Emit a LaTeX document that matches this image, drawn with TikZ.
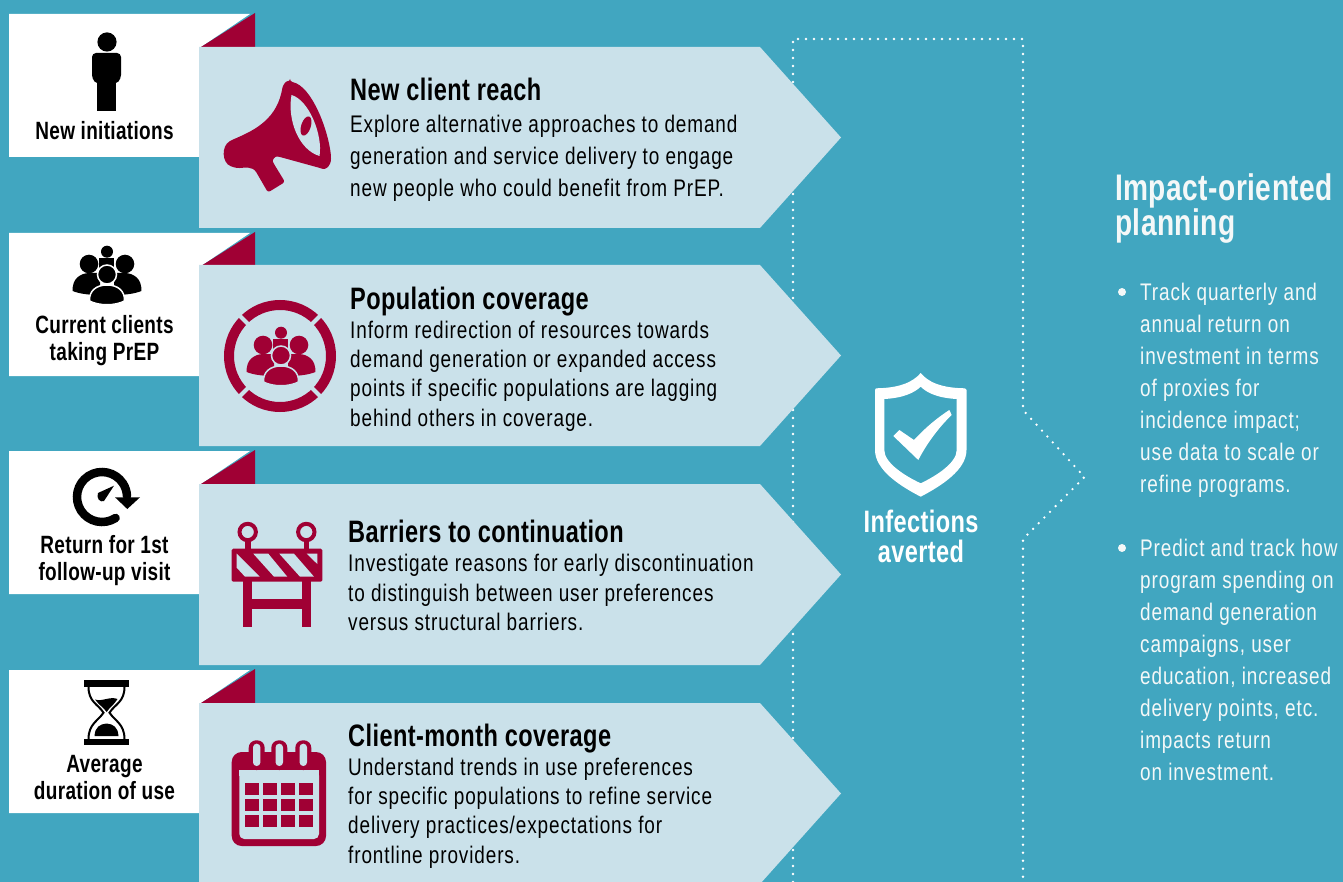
\documentclass[tikz,border=0pt]{standalone}
\usepackage{fontspec}
\setmainfont[FakeStretch=0.79,LetterSpace=3.7]{Liberation Sans}
\newfontfamily\hfam[FakeStretch=0.76,LetterSpace=1.3]{Liberation Sans}
\newcommand{\headfont}{\hfam\bfseries}
\definecolor{bgblue}{HTML}{41A6C0}
\definecolor{paleblue}{HTML}{CAE1EA}
\definecolor{wine}{HTML}{A00034}
\definecolor{creamtext}{HTML}{F4F8F8}
\tikzset{
  chevron/.style={fill=paleblue,draw=none},
  tabbox/.style={fill=white,draw=none},
  fold/.style={fill=wine,draw=none},
  headline/.style={anchor=base west,inner sep=0pt,font=\headfont\fontsize{31}{32}\selectfont,text=black},
  bodytext/.style={anchor=west,inner sep=0pt,align=left,text=black},
  tablabel/.style={inner sep=0pt,align=center,font=\headfont\fontsize{25}{27}\selectfont,text=black},
  dotline/.style={white,line width=2.6pt,line cap=round,dash pattern=on 0pt off 8pt},
  sidetext/.style={anchor=west,inner sep=0pt,align=left,text=creamtext,font=\fontsize{24}{32}\selectfont},
}
\newcommand{\tabpanel}[1]{%
  \fill[tabbox] (9,#1) -- (250,#1) -- (201,#1+33) -- (201,#1+143) -- (9,#1+143) -- cycle;
  \fill[fold] (255,#1-1) -- (201,#1+33) -- (255,#1+33) -- cycle;}
\newcommand{\arrowpanel}[1]{%
  \fill[chevron] (199,#1) -- (760,#1) -- (841,#1+90.5) -- (760,#1+181) -- (199,#1+181) -- cycle;}
\newcommand{\groupicon}[3]{%
 \begin{scope}[shift={(#1)}]
  \fill[#2] (107,251.7) circle (6);
  \fill[#2] (99.3,258) rectangle (114,270);
  \fill[#2] (72.6,291) .. controls (72,279) and (80,273) .. (90,273) -- (100,273) -- (100,295) .. controls (90,295) and (80,294) .. (72.6,291) -- cycle;
  \fill[#2] (141.4,291) .. controls (142,279) and (134,273) .. (124,273) -- (114,273) -- (114,295) .. controls (124,295) and (134,294) .. (141.4,291) -- cycle;
  \fill[#2] (89,264) circle (9.3);
  \fill[#2] (125,264) circle (9.3);
  \filldraw[fill=#2,draw=#3,line width=1.5pt] (89.5,301) .. controls (89,291) and (96,285) .. (107,285) .. controls (118,285) and (125,291) .. (124.5,301) .. controls (115,306) and (99,306) .. (89.5,301) -- cycle;
  \filldraw[fill=#2,draw=#3,line width=1.5pt] (107,274.5) circle (9.5);
 \end{scope}}
\begin{document}
\begin{tikzpicture}[x=1pt,y=-1pt]
\useasboundingbox (0,0) rectangle (1343,882);
\clip (0,0) rectangle (1343,882);
\fill[bgblue] (0,0) rectangle (1343,882);

% dotted frame
\coordinate (fA) at (793,882);
\coordinate (fB) at (793,39);
\coordinate (fC) at (1023,39);
\coordinate (fD) at (1023,410);
\coordinate (fE) at (1084.5,477);
\coordinate (fF) at (1028,534);
\coordinate (fG) at (1023,539);
\coordinate (fH) at (1023,882);
\draw[dotline] (fA) -- (fB) -- (fC) -- (fD) -- (fE) -- (fF) -- (fG) -- (fH);

\tabpanel{14}\tabpanel{233}\tabpanel{451}\tabpanel{670}
\arrowpanel{47}\arrowpanel{265}\arrowpanel{484}\arrowpanel{703}

% person
\fill[black] (107,42) circle (9.6);
\fill[black,rounded corners=4pt] (92,53) -- (121,53) -- (121,79) -- (116,84) -- (97,84) -- (92,79) -- cycle;
\fill[black] (97,78) rectangle (116,111.5);
\node[tablabel] (t1) at (104.5,131) {New initiations};

% group black
\groupicon{0,0}{black}{white}
\node[tablabel] (t2) at (104.5,340.5) {Current clients\\taking PrEP};

% gauge
\draw[black,line width=8.5pt,line cap=round] (102,497) ++(57:25) arc[start angle=57,end angle=358,radius=25];
\fill[black] (115,497.3) -- (140,497.3) -- (127.3,509) -- cycle;
\fill[black] (114,485.7) -- (104,501) .. controls (100,503) and (96,498) .. (98,493) -- cycle;
\node[tablabel] (t3) at (104.5,560.5) {Return for 1st\\follow-up visit};

% hourglass
\fill[black] (83.7,680.3) rectangle (129,687);
\fill[black] (83.7,739) rectangle (129,745.3);
\draw[black,line width=2pt] (88.5,687) .. controls (88.5,702) and (98,704) .. (103.5,712.7) .. controls (98,721) and (88.5,724) .. (88.5,739);
\draw[black,line width=2pt] (124.5,687) .. controls (124.5,702) and (115,704) .. (109.5,712.7) .. controls (115,721) and (124.5,724) .. (124.5,739);
\fill[black] (95,699.5) .. controls (102,702) and (110,696) .. (117.5,699) .. controls (114,705) and (109,708) .. (106.7,712) .. controls (104,708) and (99,705) .. (95,699.5) -- cycle;
\fill[black] (94.5,736) .. controls (95,727) and (100,724) .. (106.7,723.5) .. controls (113,724) and (118,727) .. (118.5,736) -- cycle;
\node[tablabel] (t4) at (104.5,777.5) {Average\\duration of use};

% megaphone
\fill[wine,rounded corners=2.5pt] (290,81.5) .. controls (312,86) and (328,130) .. (331,156) .. controls (331,166) and (326,170) .. (320,168) -- (280,157) .. controls (275,156) and (272,160) .. (274,164) -- (285,182) -- (268,192.5) -- (255,170) .. controls (247,166) and (240,169) .. (233,167) .. controls (222,163) and (221,146) .. (232,140) .. controls (250,132) and (275,122) .. (282,90) .. controls (283,85) and (286,81) .. (290,81.5) -- cycle;
\fill[paleblue] (291.5,95) .. controls (309,100) and (323,135) .. (319.5,156) .. controls (299,150) and (287,120) .. (291.5,95) -- cycle;
\fill[wine,rotate around={-18:(306,126)}] (306,126) ellipse (4.8 and 10);

% ring + group wine
\draw[wine,line width=10pt] (280,356) circle (51);
\foreach \a in {45,135,225,315}
  \draw[paleblue,line width=4pt] (280,356) ++(\a:44) -- ++(\a:14);
\groupicon{174,81}{wine}{paleblue}

% barrier
\draw[wine,line width=4pt] (247.7,532) circle (8.2);
\draw[wine,line width=4pt] (306.3,532) circle (8.2);
\fill[wine] (245,539) rectangle (250.5,550);
\fill[wine] (303.5,539) rectangle (309,550);
\fill[wine] (242.7,578) rectangle (252.3,627.3);
\fill[wine] (301.7,578) rectangle (311.3,627.3);
\fill[wine] (245,599.3) rectangle (305,609);
\fill[wine,rounded corners=1.5pt] (231.7,548.7) rectangle (322.3,581.7);
\fill[paleblue] (236.7,553.7) -- (259.7,576.7) -- (245,576.7) -- (236.7,567.7) -- cycle;
\fill[paleblue] (253.3,553.7) -- (268.3,553.7) -- (287.3,576.7) -- (274,576.7) -- cycle;
\fill[paleblue] (279.3,553.7) -- (294,553.7) -- (314,576.7) -- (300,576.7) -- cycle;
\fill[paleblue] (306.7,553.7) -- (317.3,553.7) -- (317.3,564) -- cycle;

% calendar
\fill[wine,rounded corners=10pt] (231.7,752) rectangle (326,846);
\fill[paleblue,rounded corners=5pt] (239.3,770.3) -- (319,770.3) -- (319,839) -- (239.3,839) -- cycle;
\fill[paleblue] (239.3,770.3) rectangle (319,776);
\foreach \x in {256.7,279.3,303.3} {
  \fill[wine,rounded corners=7.5pt] (\x-8,740.3) rectangle (\x+8,770);
  \fill[paleblue,rounded corners=3.6pt] (\x-3.7,743.7) rectangle (\x+3.7,766);
}
\foreach \x in {245,263,281,299} \foreach \y in {783,799,815}
  \fill[wine] (\x,\y) rectangle (\x+14,\y+12);

% arrow texts
\node[headline] (h1) at (350,100.5) {New client reach};
\node[bodytext,font=\fontsize{24}{32}\selectfont] (b1) at (350,158) {Explore alternative approaches to demand\\generation and service delivery to engage\\new people who could benefit from PrEP.};
\node[headline] (h2) at (350,310) {Population coverage};
\node[bodytext,font=\fontsize{24}{29.4}\selectfont] (b2) at (350,376) {Inform redirection of resources towards\\demand generation or expanded access\\points if specific populations are lagging\\behind others in coverage.};
\node[headline] (h3) at (348,542.5) {Barriers to continuation};
\node[bodytext,font=\fontsize{24}{29.4}\selectfont] (b3) at (348,592.5) {Investigate reasons for early discontinuation\\to distinguish between user preferences\\versus structural barriers.};
\node[headline] (h4) at (348,746) {Client-month coverage};
\node[bodytext,font=\fontsize{24}{29.4}\selectfont] (b4) at (348,813) {Understand trends in use preferences\\for specific populations to refine service\\delivery practices/expectations for\\frontline providers.};

% shield
\fill[white,even odd rule] (920.7,373) .. controls (913,382) and (900,388) .. (876,388.3) .. controls (875,388.3) and (875,389) .. (875,390) -- (875,450) .. controls (875,470) and (900,486) .. (920.7,496.7) .. controls (941,486) and (966.5,470) .. (966.5,450) -- (966.5,390) .. controls (966.5,389) and (966,388.3) .. (965,388.3) .. controls (941,388) and (928,382) .. (920.7,373) -- cycle
 (920.7,386.7) .. controls (914,393) and (903,398) .. (884.3,399) -- (884.3,450) .. controls (884.3,463) and (905,476) .. (920.7,483.3) .. controls (936,476) and (956.7,463) .. (956.7,450) -- (956.7,399) .. controls (938,398) and (927,393) .. (920.7,386.7) -- cycle;
\fill[white] (893.3,436) -- (899.3,430) -- (914,440) .. controls (925,428) and (937,418) .. (949.3,410) -- (951.7,415) .. controls (938,428) and (926,445) .. (918.3,460) -- cycle;
\node[inner sep=0pt,align=center,text=white,font=\headfont\fontsize{31}{29.5}\selectfont] (ia) at (921,536.5) {Infections\\averted};

% right column
\node[anchor=west,inner sep=0pt,align=left,text=creamtext,font=\headfont\fontsize{37}{35}\selectfont] (ip) at (1115,208.5) {Impact-oriented\\planning};
\fill[creamtext] (1122,292) circle (4);
\node[sidetext] (r1) at (1140,390) {Track quarterly and\\annual return on\\investment in terms\\of proxies for\\incidence impact;\\use data to scale or\\refine programs.};
\fill[creamtext] (1122,548) circle (4);
\node[sidetext] (r2) at (1140,660) {Predict and track how\\program spending on\\demand generation\\campaigns, user\\education, increased\\delivery points, etc.\\impacts return\\on investment.};
\end{tikzpicture}
\end{document}
